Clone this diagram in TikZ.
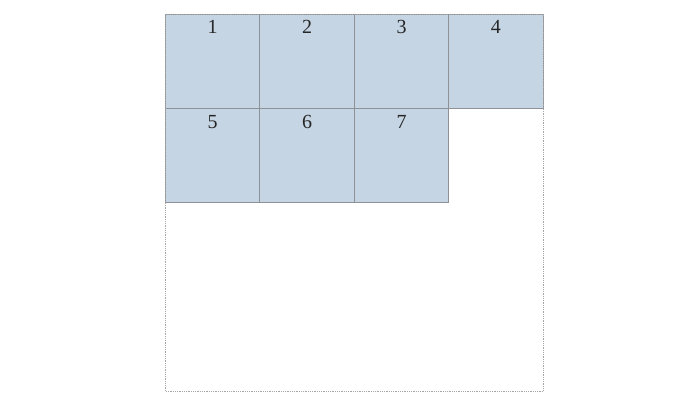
\documentclass[tikz,border=0pt]{standalone}
\usepackage{fontspec}
\setmainfont{Liberation Serif}
\usetikzlibrary{positioning}
\definecolor{cellblue}{HTML}{C5D5E4}
\definecolor{cellline}{HTML}{8E9296}
\tikzset{
  cell/.style={draw=cellline,fill=cellblue,line width=0.9pt,minimum size=94.4pt,inner sep=0pt,outer sep=0pt},
  num/.style={inner sep=0pt,text=black!85,font=\fontsize{20}{24}\selectfont},
  frame/.style={draw=gray!70,densely dotted,line width=0.8pt}
}
\begin{document}
\begin{tikzpicture}[x=1pt,y=-1pt]
	\useasboundingbox (0,0) rectangle (687,409);
	\foreach \n/\cx/\cy in {1/212.7/61.2,2/307.1/61.2,3/401.5/61.2,4/495.9/61.2,5/212.7/155.6,6/307.1/155.6,7/401.5/155.6}{
	    \node[cell] (cell\n) at (\cx,\cy) {};
	    \node[num,below=6.5pt of cell\n.north] (num\n) {\n};
	}
	\coordinate (frametl) at (165.5,14);
	\coordinate (framebr) at (543.1,391.5);
	\draw[frame] (frametl) rectangle (framebr);
\end{tikzpicture}
\end{document}
